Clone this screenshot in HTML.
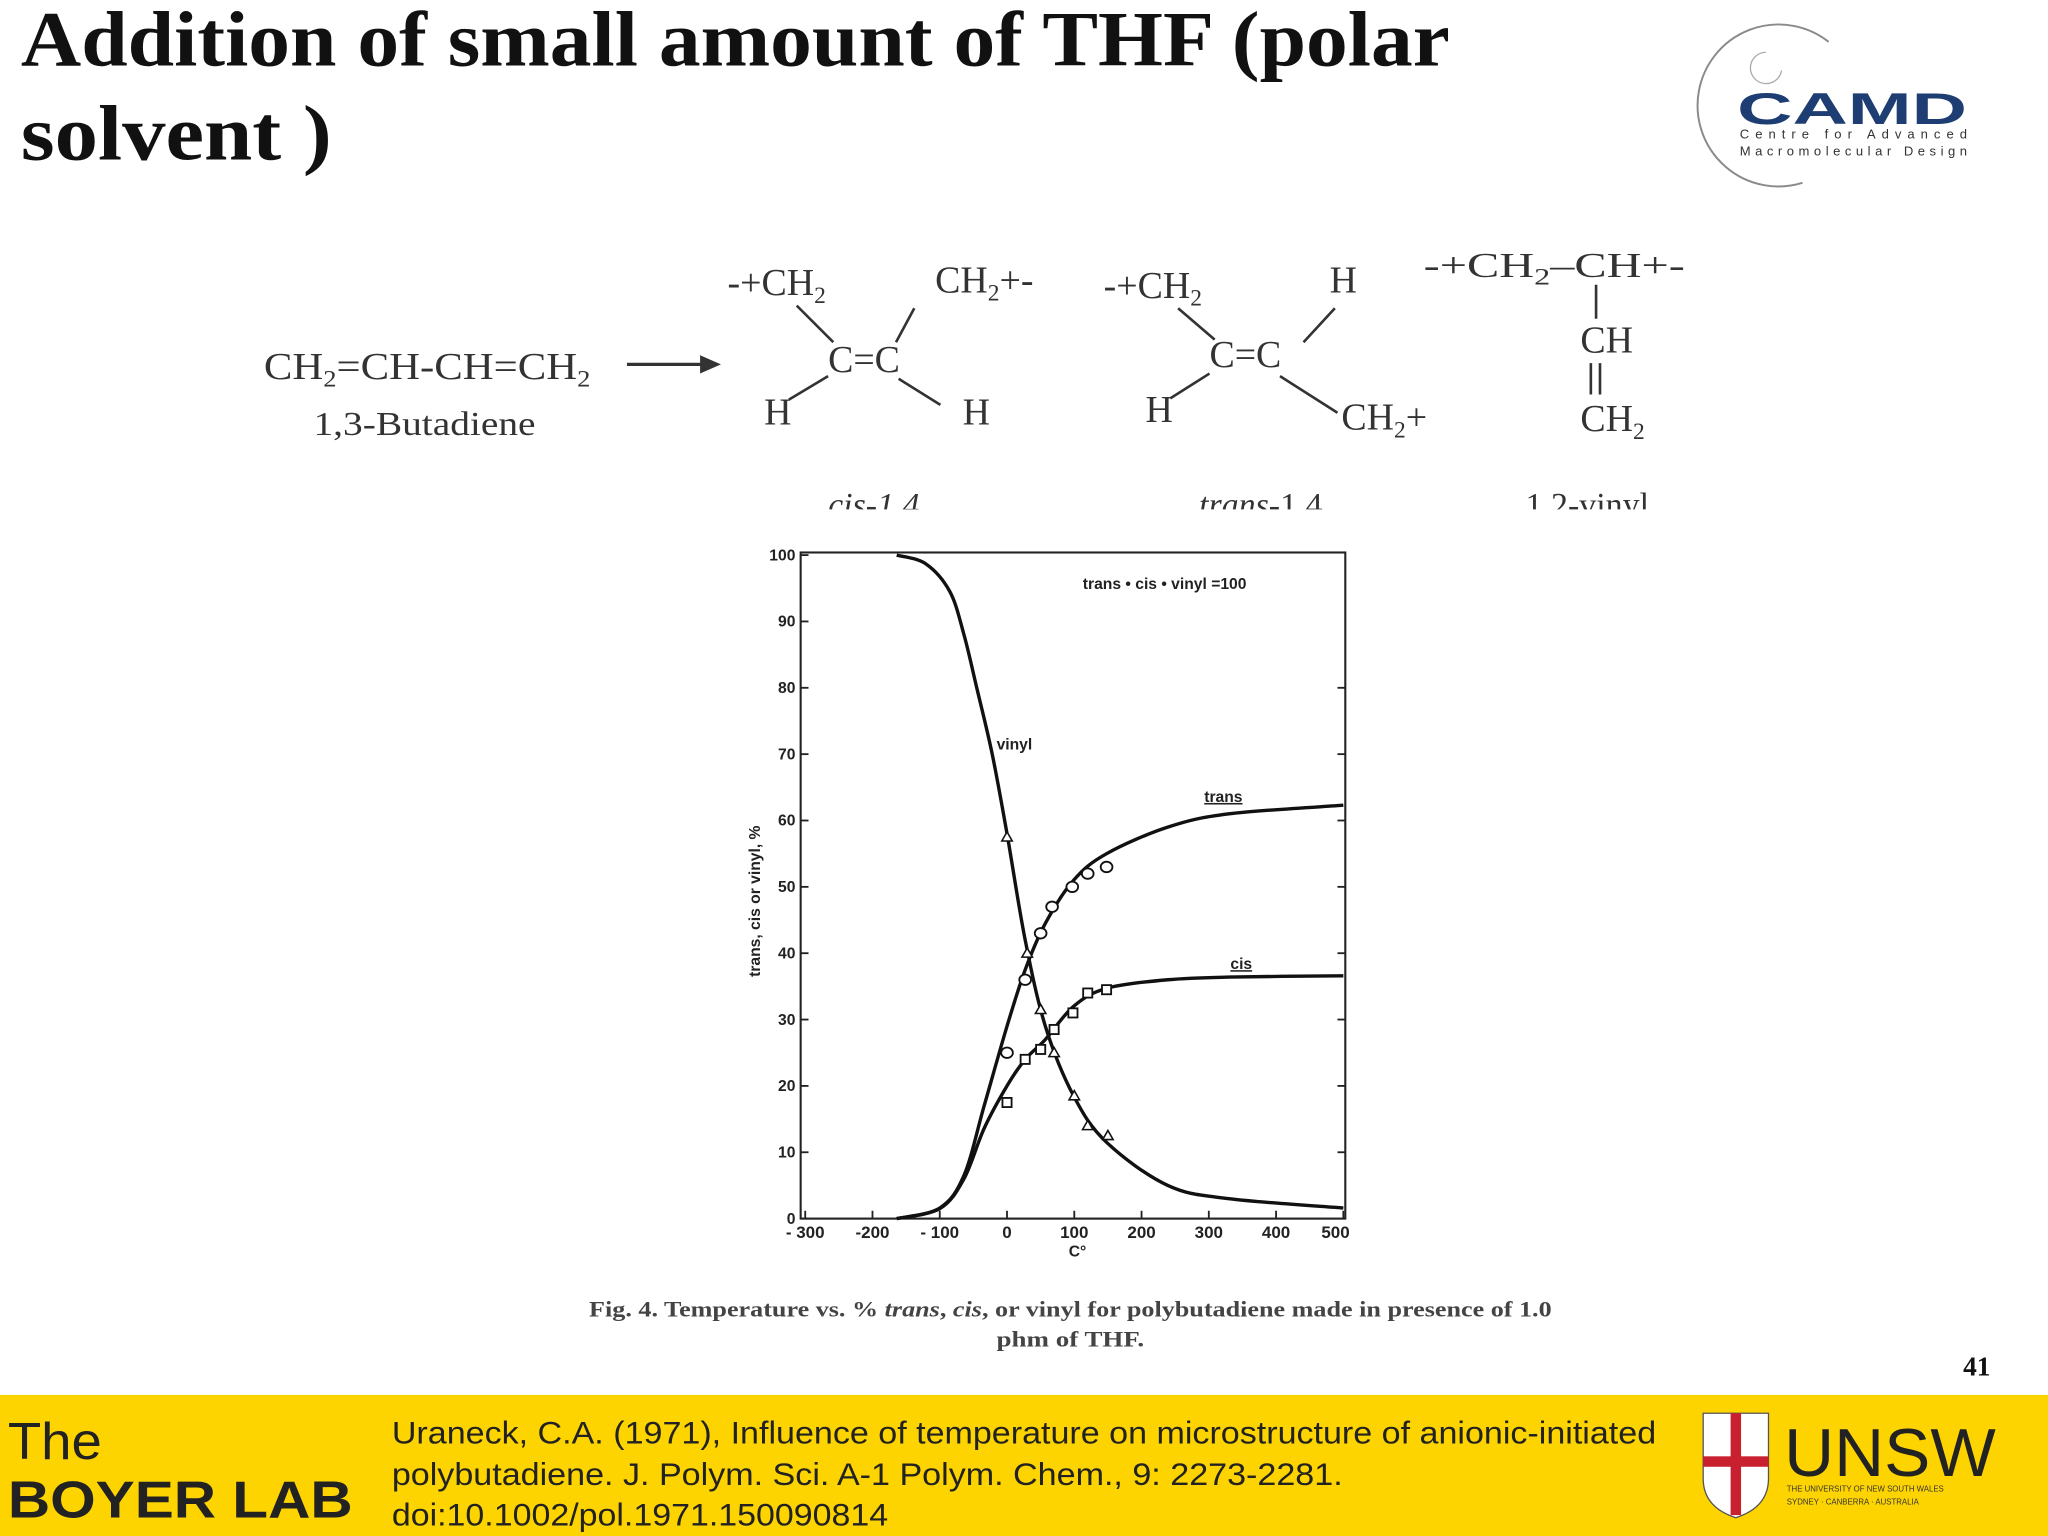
<!DOCTYPE html>
<html><head><meta charset="utf-8"><style>
html,body{margin:0;padding:0;background:#fff;}
svg{display:block;}
text{font-family:"Liberation Serif",serif;}
.sans{font-family:"Liberation Sans",sans-serif;}
</style></head><body>
<svg id="s" width="2048" height="1536" viewBox="0 0 2048 1536">
<g transform="scale(1.30612)">
<rect x="0" y="0" width="1568" height="1176" fill="#fff"/>
<text font-weight="bold" font-size="60" fill="#111"><tspan x="16" y="50" textLength="1094" lengthAdjust="spacingAndGlyphs">Addition of small amount of THF (polar</tspan><tspan x="16" y="122" textLength="238" lengthAdjust="spacingAndGlyphs">solvent )</tspan></text>

<g>
<path d="M1400,32 A62,62 0 1 0 1380,140" fill="none" stroke="#8a8a8a" stroke-width="1.5"/>
<path d="M1352,40 A12,12 0 1 0 1364,54" fill="none" stroke="#aaa" stroke-width="1"/>
<text class="sans" x="1330" y="95" font-size="34" font-weight="bold" fill="#1e3d73" font-family="Liberation Sans" textLength="176" lengthAdjust="spacingAndGlyphs">CAMD</text>
<text class="sans" x="1332" y="106" font-size="10" fill="#333" textLength="174" lengthAdjust="spacing">Centre for Advanced</text>
<text class="sans" x="1332" y="119" font-size="10" fill="#333" textLength="174" lengthAdjust="spacing">Macromolecular Design</text>
</g>

<g font-size="29" fill="#333">
<text x="202" y="290" textLength="250" lengthAdjust="spacingAndGlyphs">CH<tspan font-size="18" dy="6">2</tspan><tspan dy="-6">=CH-CH=CH</tspan><tspan font-size="18" dy="6">2</tspan></text>
<text x="240" y="333" font-size="26" textLength="170" lengthAdjust="spacingAndGlyphs">1,3-Butadiene</text>
<line x1="480" y1="279" x2="540" y2="279" stroke="#333" stroke-width="2.5"/>
<polygon points="552,279 536,272 536,286" fill="#333"/>
<text x="557" y="226">-+CH<tspan font-size="18" dy="6">2</tspan></text>
<text x="716" y="224">CH<tspan font-size="18" dy="6">2</tspan><tspan dy="-6">+-</tspan></text>
<text x="634" y="285">C=C</text>
<text x="585" y="325">H</text><text x="737" y="325">H</text>
<path d="M610,234 L638,262 M700,236 L686,262 M604,306 L634,288 M688,290 L720,310" stroke="#333" stroke-width="2" fill="none"/>
<text x="845" y="228">-+CH<tspan font-size="18" dy="6">2</tspan></text>
<text x="1018" y="224">H</text>
<text x="926" y="281">C=C</text>
<text x="877" y="323">H</text>
<text x="1027" y="329">CH<tspan font-size="18" dy="6">2</tspan><tspan dy="-6">+</tspan></text>
<path d="M902,236 L930,260 M1022,236 L998,262 M896,305 L926,286 M980,288 L1024,316" stroke="#333" stroke-width="2" fill="none"/>
<text x="1090" y="212" font-size="27" textLength="200" lengthAdjust="spacingAndGlyphs">-+CH<tspan font-size="18" dy="6">2</tspan><tspan dy="-6">–CH+-</tspan></text>
<text x="1210" y="270">CH</text>
<text x="1210" y="330">CH<tspan font-size="18" dy="6">2</tspan></text>
<path d="M1222,218 L1222,244 M1218,278 L1218,302 M1225,278 L1225,302" stroke="#333" stroke-width="2"/>
<svg x="0" y="360" width="1568" height="30" overflow="hidden">
<text x="634" y="35" font-size="26" font-style="italic">cis-1,4</text>
<text x="918" y="35" font-size="26"><tspan font-style="italic">trans</tspan>-1,4</text>
<text x="1168" y="35" font-size="26">1,2-vinyl</text>
</svg>
</g>

<g id="chart"></g>

<text font-size="17" font-weight="bold" fill="#444"><tspan x="451" y="1008" textLength="737" lengthAdjust="spacingAndGlyphs">Fig. 4.  Temperature vs. % <tspan font-style="italic">trans</tspan>, <tspan font-style="italic">cis</tspan>, or vinyl for polybutadiene made in presence of 1.0</tspan><tspan x="763" y="1031" textLength="113" lengthAdjust="spacingAndGlyphs">phm of THF.</tspan></text>
<text x="1503" y="1053" font-size="21" font-weight="bold" fill="#111">41</text>

<g>
<rect x="0" y="1068" width="1568" height="108" fill="#fed400"/>
<text class="sans" x="6" y="1117" font-size="40" fill="#222" font-family="Liberation Sans" textLength="72" lengthAdjust="spacingAndGlyphs">The</text>
<text class="sans" x="6" y="1162" font-size="40" font-weight="bold" fill="#222" font-family="Liberation Sans" textLength="264" lengthAdjust="spacingAndGlyphs">BOYER LAB</text>
<text class="sans" font-size="24" fill="#222" font-family="Liberation Sans"><tspan x="300" y="1105" textLength="968" lengthAdjust="spacingAndGlyphs">Uraneck, C.A. (1971), Influence of temperature on microstructure of anionic-initiated</tspan><tspan x="300" y="1137" textLength="728" lengthAdjust="spacingAndGlyphs">polybutadiene. J. Polym. Sci. A-1 Polym. Chem., 9: 2273-2281.</tspan><tspan x="300" y="1168" textLength="380" lengthAdjust="spacingAndGlyphs">doi:10.1002/pol.1971.150090814</tspan></text>
<g>
<path d="M1304,1082 h50 v50 q0,22 -25,30 q-25,-8 -25,-30z" fill="#fff" stroke="#555"/>
<rect x="1325" y="1082" width="8" height="78" fill="#c8202f"/>
<rect x="1304" y="1115" width="50" height="8" fill="#c8202f"/>
<text class="sans" x="1366" y="1130" font-size="52" fill="#222" font-family="Liberation Sans" textLength="162" lengthAdjust="spacingAndGlyphs">UNSW</text>
<text class="sans" x="1368" y="1142" font-size="6" fill="#333">THE UNIVERSITY OF NEW SOUTH WALES</text>
<text class="sans" x="1368" y="1152" font-size="6" fill="#333">SYDNEY · CANBERRA · AUSTRALIA</text>
</g>
</g>
</g>
</svg>
<script>
const trans_T=[-300,-164,-100,-64,-34,0,27,57,99,148,239,330,500];
const trans_V=[0,0,1.6,6.5,17,29,37.5,44.5,51,55,59,61,62.3];
const cis_T=[-300,-164,-100,-64,-34,0,27,57,99,148,239,330,500];
const cis_V=[0,0,1.5,6,13.6,20,24,27,32,34.7,36,36.4,36.6];
const vinyl_T=[-300,-164,-121,-85,-64,-45,-22,0,27,57,99,148,239,330,500];
const vinyl_V=[100,100,98.7,94.5,88,80,70,58,42,29,18.5,11.5,5,3,1.6];
const transPtsT=[0,27,50,67,97,120,148];
const transPtsV=[25,36,43,47,50,52,53];
const cisPtsT=[0,27,50,70,98,120,148];
const cisPtsV=[17.5,24,25.5,28.5,31,34,34.5];
const vinylPtsT=[0,30,50,70,100,120,150];
const vinylPtsV=[57.5,40,31.5,25,18.5,14,12.5];
const xTicks=[-300,-200,-100,0,100,200,300,400,500];
const xTickLabels=['- 300','-200','- 100','0','100','200','300','400','500'];
const yTicks=[0,10,20,30,40,50,60,70,80,90,100];

const NS='http://www.w3.org/2000/svg';
const g=document.getElementById('chart');
const X=v=>771+v*0.515;
const Y=v=>933-v*5.08;
function mk(tag,attrs,parent){const e=document.createElementNS(NS,tag);for(const k in attrs)e.setAttribute(k,attrs[k]);(parent||g).appendChild(e);return e;}
function txt(s,attrs){const e=mk('text',attrs);e.textContent=s;return e;}
const frame=mk('rect',{x:613,y:Y(100)-2,width:417,height:Y(0)-Y(100)+2,fill:'none',stroke:'#222','stroke-width':1.6});


yTicks.forEach(v=>{
  const t=mk('line',{x1:613,x2:619,y1:Y(v),y2:Y(v),stroke:'#222','stroke-width':1.4});
  
  
  if(v>0&&v<90){const r=mk('line',{x1:1024,x2:1030,y1:Y(v),y2:Y(v),stroke:'#222','stroke-width':1.4});
  
  }
  const l=txt(String(v),{x:609,y:Y(v)+4,'font-size':12,'font-weight':'bold','text-anchor':'end',class:'sans',fill:'#222'});
  
  
});
xTicks.forEach((v,i)=>{
  const t=mk('line',{x1:X(v),x2:X(v),y1:Y(0),y2:Y(0)-6,stroke:'#222','stroke-width':1.4});
  
  
  const l=txt(xTickLabels[i],{x:X(v)+(i==xTicks.length-1?-6:0),y:948,'font-size':13,'font-weight':'bold','text-anchor':'middle',class:'sans',fill:'#222'});
  
  
});
const xt=txt('C°',{x:825,y:962,'font-size':12,'font-weight':'bold','text-anchor':'middle',class:'sans',fill:'#222'});


const yt=txt('trans, cis or vinyl, %',{x:0,y:0,'font-size':12,'font-weight':'bold','text-anchor':'middle',class:'sans',fill:'#222',transform:'translate(582,690) rotate(-90)'});


const note=txt('trans • cis • vinyl =100',{x:829,y:451,'font-size':12,'font-weight':'bold',class:'sans',fill:'#222'});


function path(T,V){const p=T.map((t,i)=>[X(t),Y(V[i])]);let d='M'+p[0][0]+','+p[0][1];
 for(let i=0;i<p.length-1;i++){const p0=p[i-1]||p[i],p1=p[i],p2=p[i+1],p3=p[i+2]||p2;
 d+=' C'+(p1[0]+(p2[0]-p0[0])/6)+','+(p1[1]+(p2[1]-p0[1])/6)+' '+(p2[0]-(p3[0]-p1[0])/6)+','+(p2[1]-(p3[1]-p1[1])/6)+' '+p2[0]+','+p2[1];}
 return d;}
function clipStart(T,V){return [T.slice(1),V.slice(1)];}
const tc=clipStart(trans_T,trans_V),cc=clipStart(cis_T,cis_V);
const l1=mk('path',{d:path(vinyl_T.slice(1),vinyl_V.slice(1)),fill:'none',stroke:'#111','stroke-width':2.6});


const l2=mk('path',{d:path(tc[0],tc[1]),fill:'none',stroke:'#111','stroke-width':2.6});


const l3=mk('path',{d:path(cc[0],cc[1]),fill:'none',stroke:'#111','stroke-width':2.6});


transPtsT.forEach((t,i)=>{const c=mk('ellipse',{cx:X(t),cy:Y(transPtsV[i]),rx:4.5,ry:4,fill:'#fff',stroke:'#111','stroke-width':1.4});
 
 });
cisPtsT.forEach((t,i)=>{const c=mk('rect',{x:X(t)-3.5,y:Y(cisPtsV[i])-3.5,width:7,height:7,fill:'#fff',stroke:'#111','stroke-width':1.4});
 
 });
vinylPtsT.forEach((t,i)=>{const x=X(t),y=Y(vinylPtsV[i]);const c=mk('polygon',{points:`${x},${y-4} ${x-4},${y+3} ${x+4},${y+3}`,fill:'#fff',stroke:'#111','stroke-width':1.2});
 
 });
const lv=txt('vinyl',{x:763,y:574,'font-size':12,'font-weight':'bold',class:'sans',fill:'#222'});


const lt=txt('trans',{x:922,y:614,'font-size':12,'font-weight':'bold',class:'sans',fill:'#222','text-decoration':'underline'});


const lc=txt('cis',{x:942,y:742,'font-size':12,'font-weight':'bold',class:'sans',fill:'#222','text-decoration':'underline'});


</script>
</body></html>
